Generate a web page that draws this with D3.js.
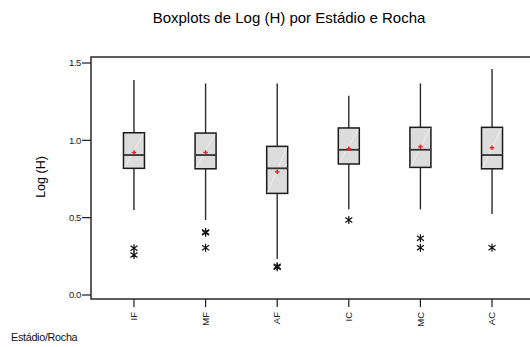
<!DOCTYPE html>
<html>
<head>
<meta charset="utf-8">
<script src="https://cdn.jsdelivr.net/npm/d3@7/dist/d3.min.js"></script>
<style>
  html, body { margin: 0; padding: 0; background: #fff; }
  svg { display: block; font-family: "Liberation Sans", Arial, sans-serif; }
</style>
</head>
<body>
<svg id="chart" width="530" height="347"></svg>
<script>
// Stage / rock groups along the x axis
const categories = ["IF", "MF", "AF", "IC", "MC", "AC"];
// Box statistics of Log (H) for each group
const whiskerLow  = [0.549, 0.485, 0.233, 0.554, 0.554, 0.524];
const quartile1   = [0.819, 0.816, 0.657, 0.847, 0.825, 0.816];
const medians     = [0.905, 0.905, 0.819, 0.939, 0.939, 0.905];
const quartile3   = [1.049, 1.047, 0.961, 1.080, 1.084, 1.084];
const whiskerHigh = [1.390, 1.368, 1.368, 1.288, 1.368, 1.461];
const means       = [0.922, 0.922, 0.797, 0.946, 0.959, 0.952];
// Outlying observations per group
const outliers = [
  [0.302, 0.259],
  [0.402, 0.408, 0.306],
  [0.180, 0.186],
  [0.485],
  [0.367, 0.306],
  [0.306]
];
const yTicks = [0.0, 0.5, 1.0, 1.5];

const svg = d3.select("#chart");

const y = d3.scaleLinear().domain([0, 1.5]).range([295, 63]);
const x = d3.scalePoint().domain(categories).range([91, 535]).padding(0.6);

const frame = { left: 91, top: 57, bottom: 299, right: 545 };
const boxW = 21;

// Title
svg.append("text")
  .attr("x", 289).attr("y", 23)
  .attr("text-anchor", "middle")
  .attr("font-size", 15)
  .attr("fill", "#000")
  .text("Boxplots de Log (H) por Estádio e Rocha");

// Plot frame (runs past the right edge)
svg.append("rect")
  .attr("x", frame.left).attr("y", frame.top)
  .attr("width", frame.right - frame.left).attr("height", frame.bottom - frame.top)
  .attr("fill", "none").attr("stroke", "#1a1a1a").attr("stroke-width", 1.4);

// Y axis ticks and labels
const yAxis = svg.append("g");
yAxis.selectAll("line").data(yTicks).join("line")
  .attr("x1", frame.left - 9).attr("x2", frame.left)
  .attr("y1", d => y(d)).attr("y2", d => y(d))
  .attr("stroke", "#1a1a1a").attr("stroke-width", 1.2);
yAxis.selectAll("text").data(yTicks).join("text")
  .attr("x", frame.left - 10).attr("y", d => y(d) + 3.3)
  .attr("text-anchor", "end")
  .attr("font-size", 9.5)
  .attr("letter-spacing", -0.4)
  .attr("fill", "#222")
  .text(d => d3.format(".1f")(d));

// Y axis title
svg.append("text")
  .attr("transform", "translate(45,177) rotate(-90)")
  .attr("text-anchor", "middle")
  .attr("font-size", 12.5)
  .attr("fill", "#000")
  .text("Log (H)");

// X axis ticks and rotated labels
const xAxis = svg.append("g");
xAxis.selectAll("line").data(categories).join("line")
  .attr("x1", d => x(d)).attr("x2", d => x(d))
  .attr("y1", frame.bottom).attr("y2", frame.bottom + 8)
  .attr("stroke", "#1a1a1a").attr("stroke-width", 1.2);
xAxis.selectAll("text").data(categories).join("text")
  .attr("transform", d => `translate(${x(d) + 3.3},${frame.bottom + 13}) rotate(-90)`)
  .attr("text-anchor", "end")
  .attr("font-size", 9.5)
  .attr("fill", "#222")
  .text(d => d);

svg.append("text")
  .attr("x", 11).attr("y", 341)
  .attr("font-size", 10.8)
  .attr("letter-spacing", -0.3)
  .attr("fill", "#111")
  .text("Estádio/Rocha");

// Boxes
const groups = svg.append("g").selectAll("g")
  .data(categories.map((c, i) => ({
    c, lo: whiskerLow[i], q1: quartile1[i], med: medians[i],
    q3: quartile3[i], hi: whiskerHigh[i], mean: means[i], out: outliers[i]
  })))
  .join("g");

// Whiskers
groups.append("line")
  .attr("x1", d => x(d.c)).attr("x2", d => x(d.c))
  .attr("y1", d => y(d.hi)).attr("y2", d => y(d.q3))
  .attr("stroke", "#2a2a2a").attr("stroke-width", 1.4);
groups.append("line")
  .attr("x1", d => x(d.c)).attr("x2", d => x(d.c))
  .attr("y1", d => y(d.q1)).attr("y2", d => y(d.lo))
  .attr("stroke", "#2a2a2a").attr("stroke-width", 1.4);

// Box body
groups.append("rect")
  .attr("x", d => x(d.c) - boxW / 2)
  .attr("y", d => y(d.q3))
  .attr("width", boxW)
  .attr("height", d => y(d.q1) - y(d.q3))
  .attr("fill", "#dcdcdc")
  .attr("stroke", "#1a1a1a").attr("stroke-width", 1.5);

// Faint sheen across each box
groups.append("line")
  .attr("x1", d => x(d.c) - boxW / 2 + 1).attr("y1", d => y(d.q1) - 1)
  .attr("x2", d => x(d.c) + boxW / 2 - 1).attr("y2", d => y(d.q3) + 1)
  .attr("stroke", "#f2f2f2").attr("stroke-width", 0.8);

// Median line
groups.append("line")
  .attr("x1", d => x(d.c) - boxW / 2).attr("x2", d => x(d.c) + boxW / 2)
  .attr("y1", d => y(d.med)).attr("y2", d => y(d.med))
  .attr("stroke", "#333").attr("stroke-width", 1.8);

// Mean marker
groups.append("path")
  .attr("transform", d => `translate(${x(d.c)},${y(d.mean)})`)
  .attr("d", d3.symbol(d3.symbolCross, 11))
  .attr("fill", "#ee2222");

// Outliers drawn as asterisks
const star = "M0,-4L0,4M-3.5,-2.5L3.5,2.5M-3.5,2.5L3.5,-2.5";
groups.each(function (d) {
  d3.select(this).selectAll("path.out").data(d.out).join("path")
    .attr("class", "out")
    .attr("transform", v => `translate(${x(d.c)},${y(v)})`)
    .attr("d", star)
    .attr("fill", "none")
    .attr("stroke", "#111")
    .attr("stroke-width", 1.2);
});
</script>
</body>
</html>
